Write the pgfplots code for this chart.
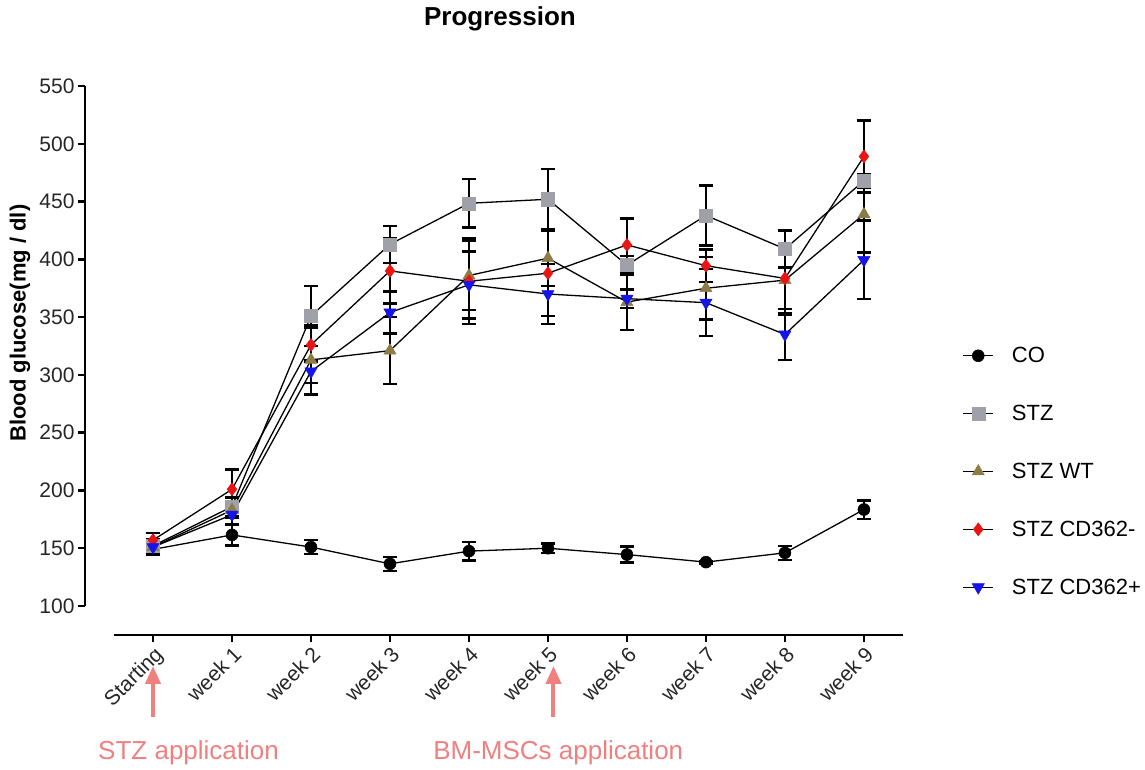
\documentclass[border=0pt]{standalone}
\usepackage{fontspec}
\setmainfont{Liberation Sans}
\usepackage{pgfplots}
\pgfplotsset{compat=1.18}
\usetikzlibrary{arrows.meta}
\definecolor{stzgray}{RGB}{160,160,168}
\definecolor{wtolive}{RGB}{140,124,70}
\definecolor{cdred}{RGB}{235,20,20}
\definecolor{cdblue}{RGB}{20,20,235}
\definecolor{salmon}{RGB}{240,128,128}
\begin{document}
\begin{tikzpicture}
\path[use as bounding box] (0,0) rectangle (1145pt,-769pt);
\begin{axis}[
  at={(85pt,-635pt)}, anchor=south west,
  scale only axis, width=820pt, height=549pt,
  xmin=-0.861, xmax=9.52, ymin=74.9, ymax=550,
  axis lines*=left,
  axis line style={draw=none},
  clip=false,
  xtick={0,...,9},
  xticklabels={Starting,week 1,week 2,week 3,week 4,week 5,week 6,week 7,week 8,week 9},
  ytick={100,150,...,550},
  tick align=outside,
  major tick length=7pt,
  tick style={black, line width=2.5pt},
  ticklabel style={font=\fontsize{21}{25}\selectfont, text=black!85},
  /pgf/number format/assume math mode=true,
  x tick label style={rotate=45, anchor=north east, inner sep=2pt},
  title={Progression},
  title style={font=\bfseries\fontsize{26}{30}\selectfont, at={(axis description cs:0.506,1)}, anchor=base, yshift=55pt},
  ylabel={Blood glucose(mg / dl)},
  ylabel style={font=\bfseries\fontsize{22}{26}\selectfont, at={(axis description cs:-0.0793,0.568)}, anchor=center},
  legend style={draw=none, fill=none, at={(axis description cs:1.07,0.528)}, anchor=north west, font=\fontsize{22}{26}\selectfont, row sep=37pt, column sep=16pt, inner sep=0pt},
  legend cell align=left,
  legend image code/.code={\draw[mark repeat=2, mark phase=2] plot coordinates {(0pt,0pt) (15pt,0pt) (30pt,0pt)};},
  eb/.style={error bars/.cd, y dir=both, y explicit, error bar style={black, line width=2.5pt}, error mark options={black, rotate=90, mark size=7pt, line width=2.5pt}},
]
\draw[black, line width=2.8pt] (axis cs:-0.861,100) -- (axis cs:-0.861,550);
\draw[black, line width=2.8pt] (axis cs:-0.5,74.9) -- (axis cs:9.5,74.9);

\addplot[black, line width=1.3pt, mark=*, mark size=6pt, mark options={fill=black, draw=black, line width=0.5pt}, eb] coordinates {
 (0,149) +- (0,5) (1,161.5) +- (0,9) (2,151) +- (0,6) (3,136.5) +- (0,6) (4,147.5) +- (0,8)
 (5,150) +- (0,4) (6,144.5) +- (0,7) (7,138) +- (0,1) (8,146) +- (0,6) (9,183.5) +- (0,8)};
\addlegendentry{CO}
\addplot[black, line width=1.3pt, mark=square*, mark size=6.5pt, mark options={fill=stzgray, draw=stzgray, line width=0.5pt}, eb] coordinates {
 (0,152) +- (0,6) (1,186) +- (0,8) (2,351) +- (0,26) (3,413) +- (0,16) (4,448.5) +- (0,21)
 (5,452) +- (0,26) (6,395) +- (0,8) (7,438) +- (0,26) (8,409) +- (0,16) (9,468) +- (0,6)};
\addlegendentry{STZ}
\addplot[black, line width=1.3pt, mark=triangle*, mark size=7pt, mark options={fill=wtolive, draw=wtolive, line width=0.5pt}, eb] coordinates {
 (0,151) +- (0,5) (1,183) +- (0,7) (2,313) +- (0,30) (3,321) +- (0,29) (4,386) +- (0,30)
 (5,401) +- (0,24) (6,363) +- (0,24) (7,375) +- (0,27) (8,382) +- (0,30) (9,439) +- (0,33)};
\addlegendentry{STZ WT}
\addplot[black, line width=1.3pt, mark=diamond*, mark size=6.5pt, mark options={fill=cdred, draw=cdred, line width=0.5pt}, eb] coordinates {
 (0,157) +- (0,6) (1,201) +- (0,17) (2,326) +- (0,15) (3,390) +- (0,28) (4,381) +- (0,37)
 (5,388) +- (0,37) (6,412.5) +- (0,23) (7,394.5) +- (0,14) (8,383.5) +- (0,30) (9,489) +- (0,31)};
\addlegendentry{STZ CD362-}
\addplot[black, line width=1.3pt, mark=triangle*, mark size=7pt, mark options={fill=cdblue, draw=cdblue, rotate=180, line width=0.5pt}, eb] coordinates {
 (0,151) +- (0,5) (1,179) +- (0,8) (2,303) +- (0,10) (3,354) +- (0,18) (4,378) +- (0,29)
 (5,370) +- (0,26) (6,366) +- (0,8) (7,362.5) +- (0,29) (8,335) +- (0,22) (9,399.5) +- (0,34)};
\addlegendentry{STZ CD362+}

\draw[salmon, line width=4pt, -{Triangle[width=15pt,length=18pt]}] (axis cs:0,3.9) -- (axis cs:0,48.1);
\draw[salmon, line width=4pt, -{Triangle[width=15pt,length=18pt]}] (axis cs:5.07,3.9) -- (axis cs:5.07,48.1);
\node[salmon, font=\fontsize{26}{30}\selectfont] at (axis cs:0.45,-27.2) {STZ application};
\node[salmon, font=\fontsize{26}{30}\selectfont] at (axis cs:5.13,-27.2) {BM-MSCs application};
\end{axis}
\end{tikzpicture}
\end{document}
